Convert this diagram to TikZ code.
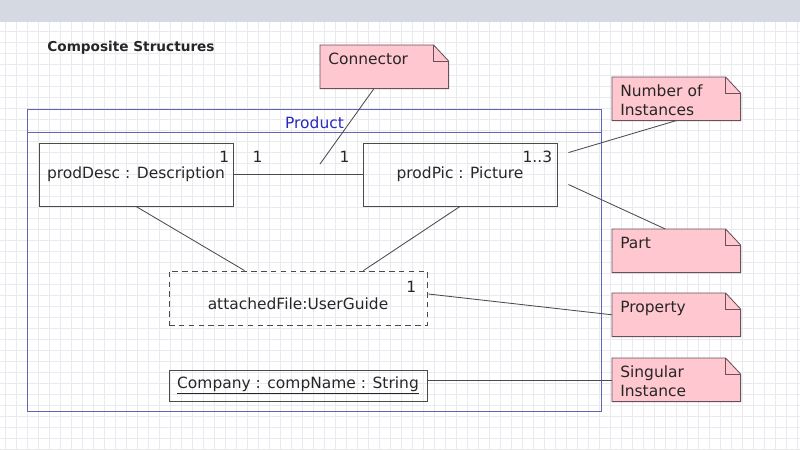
\documentclass[tikz,border=0pt]{standalone}
\usepackage{fontspec}
\setmainfont{DejaVu Sans}
\usetikzlibrary{calc, backgrounds}
\definecolor{UMLBar}{RGB}{213,217,225}
\definecolor{UMLGrid}{RGB}{233,233,240}
\definecolor{UMLPink}{RGB}{255,199,207}
\definecolor{UMLNoteLine}{RGB}{105,80,90}
\definecolor{UMLFrame}{RGB}{100,100,180}
\definecolor{UMLBlue}{RGB}{40,40,190}
\definecolor{UMLLine}{RGB}{75,75,75}

\begin{document}
\begin{tikzpicture}[x=0.025cm, y=-0.025cm,
    every node/.style={font=\fontsize{11pt}{14pt}\selectfont, text=black!85},
    gridline/.style={UMLGrid, line width=0.4pt},
    partbox/.style={rectangle, draw=UMLLine, line width=0.6pt,
                    minimum width=4.85cm, minimum height=1.575cm},
    propbox/.style={rectangle, draw=UMLLine, line width=0.6pt,
                    minimum width=6.45cm},
    framebox/.style={rectangle, minimum width=14.325cm, minimum height=7.525cm},
    frameline/.style={UMLFrame, line width=0.8pt},
    notebox/.style={rectangle, anchor=north west, align=left,
                    text width=2.8cm, inner xsep=0.2cm, inner ysep=0.1cm,
                    text height=0.375cm, text depth=0.5cm},
    mult/.style={inner sep=0pt},
    link/.style={UMLLine, line width=0.6pt}
  ]
  \useasboundingbox (0,0) rectangle (800,450);

  %--- canvas: title bar and grid ---
  \begin{scope}[on background layer]
    \fill[UMLBar] (0,0) rectangle (800,22);
    \foreach \gx in {5,16,...,800} {
      \draw[gridline] (\gx,22) -- (\gx,450);
    }
    \foreach \gy in {31,42,...,450} {
      \draw[gridline] (0,\gy) -- (800,\gy);
    }
  \end{scope}

  \node[font=\fontsize{9.7pt}{12pt}\selectfont\bfseries] (title) at (131,48)
       {Composite Structures};

  %--- Product frame ---
  \node[framebox, label={[anchor=center, yshift=-0.325cm, text=UMLBlue]north:Product}]
       (prod) at (314.5,260.5) {};
  \draw[frameline] (prod.north west) rectangle (prod.south east);
  \draw[frameline]
       ($(prod.north west)+(0,23)$) -- ($(prod.north east)+(0,23)$);

  %--- parts ---
  \node[partbox] (desc) at (136,174.5) {prodDesc : Description};
  \node[partbox] (pic)  at (460,174.5) {prodPic : Picture};
  \node[propbox, dash pattern=on 4pt off 3pt, minimum height=1.35cm,
        text height=17pt, text depth=0pt] (attach) at (298,298)
       {attachedFile:UserGuide};
  \node[propbox, minimum height=0.775cm] (comp) at (298,385.5)
       {\underline{Company : compName : String}};

  % multiplicities
  \node[mult, anchor=east] (descm)   at ($(desc.north east)+(-4,14)$) {1};
  \node[mult, anchor=east] (picm)    at ($(pic.north east)+(-5,14)$) {1..3};
  \node[mult, anchor=east] (attachm) at ($(attach.north east)+(-11,16)$) {1};

  % connectors between parts
  \draw[link] (desc.east) --
        node[mult, at start, xshift=0.6cm, yshift=0.45cm] {1}
        node[mult, at end, xshift=-0.45cm, yshift=0.45cm] {1} (pic.west);
  \draw[link] (desc.south) -- ($(attach.north west)+(76,0)$);
  \draw[link] (pic.south) -- ($(attach.north east)+(-64,0)$);

  %--- notes ---
  \foreach \n/\x/\y/\t in {conn/320/45/Connector,
                           inst/612/77/{Number of\\Instances},
                           partn/612/229/Part,
                           prop/612/293/Property,
                           sing/612/358/{Singular\\Instance}} {
    \node[notebox] (\n) at (\x,\y) {\t};
    \begin{scope}[on background layer]
      \filldraw[fill=UMLPink, draw=UMLNoteLine, line width=0.6pt]
        (\n.north west) -- ($(\n.north east)+(-15,0)$)
        -- ($(\n.north east)+(0,16)$) -- (\n.south east)
        -- (\n.south west) -- cycle;
    \end{scope}
    \draw[UMLNoteLine, line width=0.6pt]
      ($(\n.north east)+(-15,0)$) -- ($(\n.north east)+(-15,16)$)
      -- ($(\n.north east)+(0,16)$);
  }

  % note anchors
  \coordinate (connpt) at (320,164);
  \draw[link] ($(conn.south west)+(54,0)$) -- (connpt);
  \draw[link] (inst.south) -- ($(pic.north east)+(11,10)$);
  \draw[link] ($(partn.north)+(-11,0)$) -- ($(pic.east)+(11,10)$);
  \draw[link] (prop.west) -- ($(attach.east)+(1,-4)$);
  \draw[link] ($(sing.west)+(0,0.5)$) -- ($(sing.west -| comp.east)+(0,0.5)$);
\end{tikzpicture}
\end{document}
